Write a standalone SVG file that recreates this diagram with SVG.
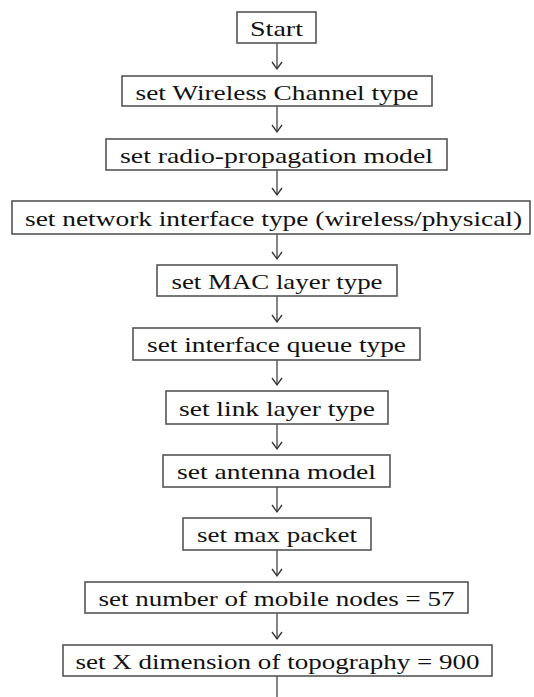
<svg xmlns="http://www.w3.org/2000/svg" width="534" height="697" viewBox="0 0 534 697">
<style>
.box{fill:#fff;stroke:#555;stroke-width:1.6}
.t{font-family:"Liberation Serif","Times New Roman",serif;font-size:22px;fill:#111;text-anchor:middle}
.c{stroke:#333;stroke-width:1.2;fill:none}
</style>
<defs>
<marker id="ah" markerWidth="12" markerHeight="12" refX="9" refY="6" orient="auto" markerUnits="userSpaceOnUse" viewBox="0 0 12 12">
<path d="M2,1 L9,6 L2,11" fill="none" stroke="#333" stroke-width="1.3"/>
</marker>
</defs>
<rect width="534" height="697" fill="#fff"/>
<g id="connectors">
<line class="c" x1="277" y1="43" x2="277" y2="69" marker-end="url(#ah)"/>
<line class="c" x1="277" y1="106" x2="277" y2="132" marker-end="url(#ah)"/>
<line class="c" x1="277" y1="170" x2="277" y2="195" marker-end="url(#ah)"/>
<line class="c" x1="277" y1="234" x2="277" y2="259" marker-end="url(#ah)"/>
<line class="c" x1="277" y1="296" x2="277" y2="322" marker-end="url(#ah)"/>
<line class="c" x1="277" y1="360" x2="277" y2="385" marker-end="url(#ah)"/>
<line class="c" x1="277" y1="424" x2="277" y2="449" marker-end="url(#ah)"/>
<line class="c" x1="277" y1="487" x2="277" y2="512" marker-end="url(#ah)"/>
<line class="c" x1="277" y1="550" x2="277" y2="576" marker-end="url(#ah)"/>
<line class="c" x1="277" y1="613" x2="277" y2="639" marker-end="url(#ah)"/>
<line class="c" x1="277" y1="676" x2="277" y2="700"/>
</g>
<g id="n1"><rect class="box" x="237" y="12" width="79" height="31"/><text class="t" x="276.5" y="35.5" textLength="53" lengthAdjust="spacingAndGlyphs">Start</text></g>
<g id="n2"><rect class="box" x="122" y="76" width="310" height="30"/><text class="t" x="277" y="99.5" textLength="283" lengthAdjust="spacingAndGlyphs">set Wireless Channel type</text></g>
<g id="n3"><rect class="box" x="106" y="139" width="341" height="31"/><text class="t" x="276.5" y="163" textLength="313" lengthAdjust="spacingAndGlyphs">set radio-propagation model</text></g>
<g id="n4"><rect class="box" x="12" y="201" width="518" height="33"/><text class="t" x="273.5" y="226" textLength="497" lengthAdjust="spacingAndGlyphs">set network interface type (wireless/physical)</text></g>
<g id="n5"><rect class="box" x="157" y="265" width="240" height="31"/><text class="t" x="277" y="289" textLength="211" lengthAdjust="spacingAndGlyphs">set MAC layer type</text></g>
<g id="n6"><rect class="box" x="133" y="328" width="287" height="32"/><text class="t" x="276.5" y="352" textLength="259" lengthAdjust="spacingAndGlyphs">set interface queue type</text></g>
<g id="n7"><rect class="box" x="166" y="391" width="222" height="33"/><text class="t" x="277" y="416" textLength="196" lengthAdjust="spacingAndGlyphs">set link layer type</text></g>
<g id="n8"><rect class="box" x="163" y="455" width="227" height="32"/><text class="t" x="276.5" y="479" textLength="199" lengthAdjust="spacingAndGlyphs">set antenna model</text></g>
<g id="n9"><rect class="box" x="183" y="518" width="188" height="32"/><text class="t" x="277" y="542" textLength="160" lengthAdjust="spacingAndGlyphs">set max packet</text></g>
<g id="n10"><rect class="box" x="85" y="582" width="383" height="31"/><text class="t" x="276.5" y="606" textLength="356" lengthAdjust="spacingAndGlyphs">set number of mobile nodes = 57</text></g>
<g id="n11"><rect class="box" x="63" y="645" width="429" height="31"/><text class="t" x="277.5" y="669" textLength="404" lengthAdjust="spacingAndGlyphs">set X dimension of topography = 900</text></g>
</svg>
